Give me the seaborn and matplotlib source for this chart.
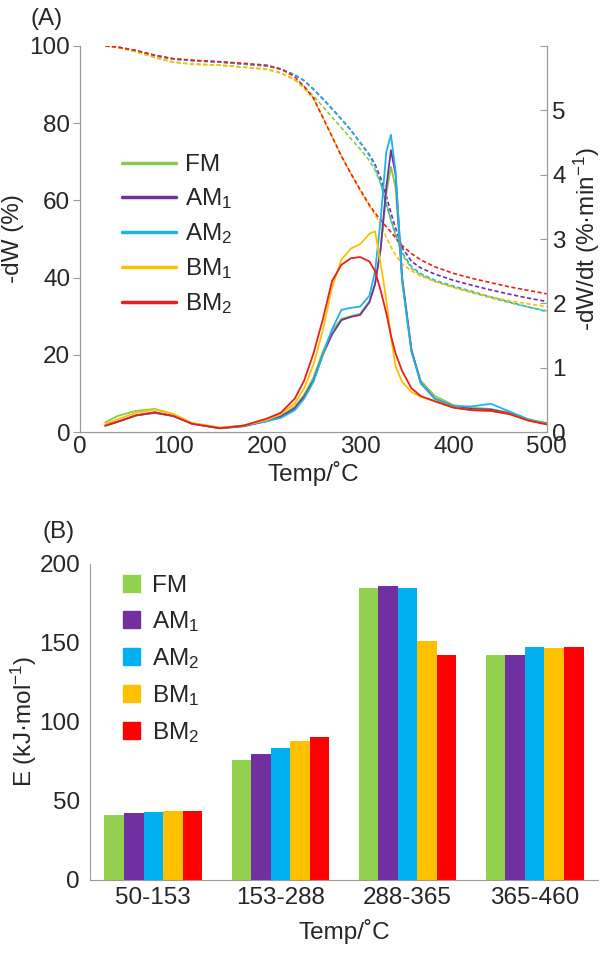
import matplotlib
matplotlib.use("Agg")
import matplotlib.pyplot as plt
import matplotlib.lines as mlines
import matplotlib.patches as mpatches
import pandas as pd
import seaborn as sns

samples = ["FM", "AM1", "AM2", "BM1", "BM2"]
labels = ["FM", "AM$_1$", "AM$_2$", "BM$_1$", "BM$_2$"]
line_colors = ["#8CC84B", "#7030A0", "#1EB4E8", "#FFC000", "#E8201C"]
bar_colors = ["#92D050", "#7030A0", "#00B0F0", "#FFC000", "#FF0000"]

temps = [27, 40, 60, 80, 100, 120, 150, 175, 200, 215, 230, 240, 250, 260, 270, 280, 290,
         300, 310, 316, 322, 328, 333, 338, 345, 355, 365, 380, 400, 420, 440, 460, 480, 500]

# TG curves (-dW, %)
tg_fm = [100, 99.6, 98.5, 97.0, 95.8, 95.3, 95.0, 94.5, 93.9, 93.0, 91.3, 89.5, 87.0, 84.3, 81.5,
         78.8, 76.0, 73.3, 70.3, 67.8, 64.2, 59.3, 54.8, 50.8, 46.0, 42.4, 40.7, 39.0, 37.5,
         36.1, 34.8, 33.5, 32.4, 31.4]
tg_am1 = [100, 99.7, 98.8, 97.5, 96.6, 96.2, 95.8, 95.3, 94.8, 94.0, 92.5, 91.0, 88.8, 86.3, 83.7,
          81.0, 78.2, 75.0, 71.8, 69.3, 65.8, 61.2, 56.8, 52.8, 47.8, 44.2, 42.5, 40.9, 39.3,
          38.0, 36.8, 35.7, 34.7, 33.8]
tg_am2 = [100, 99.7, 98.8, 97.5, 96.6, 96.2, 95.8, 95.3, 94.8, 94.0, 92.5, 91.0, 88.8, 86.3, 83.7,
          81.0, 78.2, 75.0, 71.6, 68.8, 64.5, 59.0, 55.0, 51.3, 46.5, 42.8, 41.0, 39.3, 37.8,
          36.4, 35.0, 33.7, 32.4, 31.2]
tg_bm1 = [100, 99.6, 98.5, 97.0, 95.8, 95.3, 95.0, 94.5, 94.0, 93.0, 91.2, 89.0, 86.3, 81.5, 76.5,
          71.5, 67.0, 62.5, 58.5, 56.3, 53.8, 50.5, 48.0, 45.8, 43.5, 41.8, 40.4, 39.0, 37.5,
          36.2, 35.0, 34.0, 33.2, 32.5]
tg_bm2 = [100, 99.7, 98.8, 97.6, 96.7, 96.3, 95.9, 95.5, 95.0, 94.0, 92.0, 89.5, 86.5, 81.5, 76.5,
          71.4, 67.0, 62.8, 58.8, 56.7, 55.0, 53.2, 51.8, 50.3, 48.3, 46.2, 44.6, 42.8, 41.1,
          39.8, 38.7, 37.6, 36.7, 35.8]

# DTG curves (-dW/dt, %/min)
dtg_fm = [0.15, 0.25, 0.33, 0.36, 0.28, 0.14, 0.07, 0.10, 0.18, 0.25, 0.40, 0.58, 0.85, 1.25, 1.58,
          1.76, 1.80, 1.84, 2.03, 2.30, 2.85, 3.70, 4.12, 3.80, 2.35, 1.25, 0.80, 0.56, 0.42,
          0.38, 0.36, 0.30, 0.20, 0.14]
dtg_am1 = [0.10, 0.16, 0.26, 0.31, 0.25, 0.13, 0.06, 0.09, 0.17, 0.24, 0.37, 0.55, 0.80, 1.20, 1.52,
           1.74, 1.79, 1.82, 2.02, 2.30, 2.85, 3.80, 4.38, 4.00, 2.40, 1.28, 0.76, 0.52, 0.40,
           0.36, 0.35, 0.29, 0.19, 0.13]
dtg_am2 = [0.10, 0.16, 0.26, 0.30, 0.25, 0.13, 0.06, 0.10, 0.17, 0.22, 0.34, 0.52, 0.78, 1.20, 1.60,
           1.90, 1.93, 1.95, 2.12, 2.50, 3.30, 4.35, 4.62, 4.05, 2.35, 1.25, 0.76, 0.52, 0.40,
           0.40, 0.44, 0.32, 0.20, 0.13]
dtg_bm1 = [0.12, 0.20, 0.30, 0.35, 0.28, 0.14, 0.07, 0.10, 0.19, 0.28, 0.45, 0.68, 1.05, 1.58, 2.25,
           2.68, 2.85, 2.92, 3.08, 3.12, 2.62, 2.06, 1.48, 1.02, 0.78, 0.62, 0.55, 0.48, 0.38,
           0.34, 0.33, 0.28, 0.18, 0.12]
dtg_bm2 = [0.10, 0.16, 0.26, 0.30, 0.25, 0.13, 0.06, 0.10, 0.21, 0.30, 0.52, 0.80, 1.22, 1.75, 2.35,
           2.60, 2.70, 2.72, 2.65, 2.50, 2.20, 1.85, 1.50, 1.22, 0.95, 0.68, 0.56, 0.48, 0.38,
           0.34, 0.33, 0.28, 0.18, 0.12]

# activation energy, kJ/mol
ranges = ["50-153", "153-288", "288-365", "365-460"]
e_fm = [41.1, 75.8, 184.4, 142.5]
e_am1 = [42.5, 79.8, 185.7, 141.9]
e_am2 = [43.2, 83.6, 184.4, 147.2]
e_bm1 = [43.8, 87.6, 151.2, 146.7]
e_bm2 = [43.4, 90.1, 142.1, 147.2]

sns.set_style("white")
plt.rcParams["font.family"] = ["Liberation Sans", "DejaVu Sans"]
plt.rcParams["mathtext.fontset"] = "custom"
plt.rcParams["mathtext.rm"] = "Liberation Sans"
plt.rcParams["mathtext.it"] = "Liberation Sans:italic"
plt.rcParams["mathtext.default"] = "rm"

FS = 17.5
GRAY = "#9a9a9a"

tg = pd.DataFrame({
    "temp": temps * 5,
    "tg": tg_fm + tg_am1 + tg_am2 + tg_bm1 + tg_bm2,
    "dtg": dtg_fm + dtg_am1 + dtg_am2 + dtg_bm1 + dtg_bm2,
    "sample": sum([[s] * len(temps) for s in samples], []),
})
palette = dict(zip(samples, line_colors))

fig = plt.figure(figsize=(6.11, 9.56), dpi=100)

# ---------- (A) ----------
ax = fig.add_axes([0.131, 0.548, 0.764, 0.404])
ax2 = ax.twinx()
sns.lineplot(data=tg, x="temp", y="tg", hue="sample", palette=palette, ax=ax,
             legend=False, linewidth=1.2, linestyle=(0, (2.5, 1.5)))
sns.lineplot(data=tg, x="temp", y="dtg", hue="sample", palette=palette, ax=ax2,
             legend=False, linewidth=1.3)
ax.set_xlim(0, 500)
ax.set_ylim(0, 100)
ax2.set_ylim(0, 6)
ax.set_xticks(range(0, 501, 100))
ax.set_yticks(range(0, 101, 20))
ax2.set_yticks(range(0, 7))
ax2.set_yticklabels([str(i) for i in range(6)] + [""])
ax.set_xlabel("Temp/˚C", fontsize=FS, labelpad=2)
ax.set_ylabel("-dW (%)", fontsize=FS, labelpad=4)
ax2.set_ylabel("-dW/dt (%·min$^{-1}$)", fontsize=FS, labelpad=4)
for a in (ax, ax2):
    for side in ("left", "right", "bottom"):
        a.spines[side].set_color(GRAY)
    a.spines["top"].set_visible(False)
ax.tick_params(axis="y", direction="out", length=5, color=GRAY, labelsize=FS, pad=2)
ax.tick_params(axis="x", direction="in", length=5, color=GRAY, labelsize=FS, pad=3)
ax2.tick_params(axis="y", direction="in", length=5, color=GRAY, labelsize=FS, pad=4)
handles = [mlines.Line2D([], [], color=c, lw=2.5) for c in line_colors]
ax.legend(handles, labels, loc="upper left", bbox_to_anchor=(0.09, 0.72), frameon=False,
          fontsize=FS, handlelength=2.2, handletextpad=0.4, labelspacing=0.42,
          borderaxespad=0, borderpad=0)
fig.text(0.05, 0.992, "(A)", fontsize=FS, va="top", ha="left")

# ---------- (B) ----------
bx = fig.add_axes([0.147, 0.0795, 0.832, 0.331])
ebars = pd.DataFrame({
    "range": ranges * 5,
    "E": e_fm + e_am1 + e_am2 + e_bm1 + e_bm2,
    "sample": sum([[s] * len(ranges) for s in samples], []),
})
sns.barplot(data=ebars, x="range", y="E", hue="sample", palette=dict(zip(samples, bar_colors)),
            ax=bx, width=0.77, saturation=1, legend=False, linewidth=0)
bx.set_xlim(-0.5, 3.5)
bx.set_ylim(0, 200)
bx.set_yticks(range(0, 201, 50))
bx.set_xlabel("Temp/˚C", fontsize=FS, labelpad=7)
bx.set_ylabel("E (kJ·mol$^{-1}$)", fontsize=FS, labelpad=0)
for side in ("left", "bottom"):
    bx.spines[side].set_color(GRAY)
for side in ("top", "right"):
    bx.spines[side].set_visible(False)
bx.set_xticks([-0.5, 0.5, 1.5, 2.5, 3.5], minor=True)
bx.tick_params(axis="x", which="major", length=0, labelsize=FS, pad=5)
bx.tick_params(axis="x", which="minor", direction="out", length=6, color=GRAY)
bx.tick_params(axis="y", direction="out", length=5, color=GRAY, labelsize=FS, pad=2)
sq = [mpatches.Patch(color=c) for c in bar_colors]
bx.legend(sq, labels, loc="upper left", bbox_to_anchor=(0.065, 0.965), frameon=False,
          fontsize=FS, handlelength=0.7, handleheight=0.7, handletextpad=0.5,
          labelspacing=0.5, borderaxespad=0, borderpad=0)
fig.text(0.07, 0.455, "(B)", fontsize=FS, va="top", ha="left")

fig.savefig("out.png", dpi=100)
